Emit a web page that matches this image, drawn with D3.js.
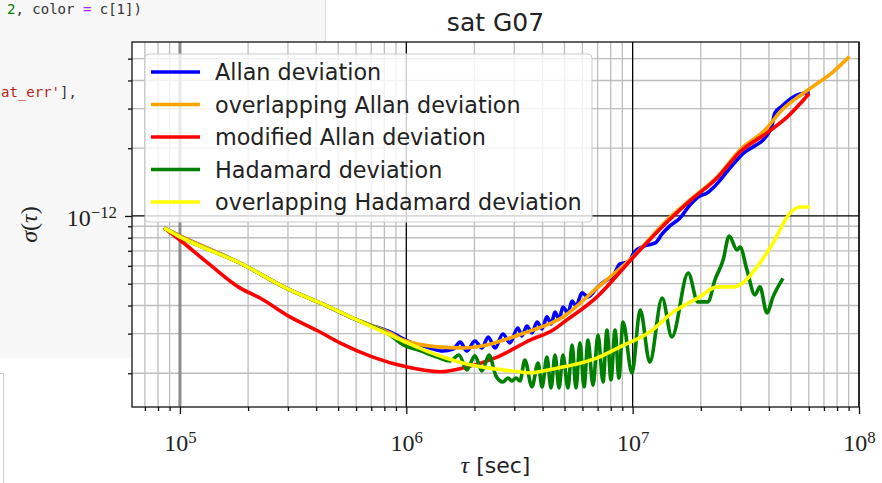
<!DOCTYPE html>
<html>
<head>
<meta charset="utf-8">
<script src="https://cdn.jsdelivr.net/npm/d3@7"></script>
<style>
  html, body { margin: 0; padding: 0; background: #fff; }
  svg { display: block; }
</style>
</head>
<body>
<svg id="chart" width="882" height="483"></svg>
<script>
// values, [tau in s, sigma]
const adev = [
  [8.64e4, 8.76e-13], [1.0e5, 8.15e-13], [1.84e5, 6.18e-13], [3.06e5, 4.69e-13],
  [4.16e5, 4.11e-13], [6.05e5, 3.45e-13], [6.91e5, 3.28e-13], [8.47e5, 3.05e-13],
  [1.04e6, 2.75e-13], [1.27e6, 2.59e-13], [1.45e6, 2.51e-13], [1.61e6, 2.56e-13],
  [1.73e6, 2.75e-13], [1.85e6, 2.51e-13], [2.01e6, 2.78e-13], [2.16e6, 2.59e-13],
  [2.30e6, 2.90e-13], [2.47e6, 2.59e-13], [2.67e6, 2.99e-13], [2.87e6, 2.73e-13],
  [3.11e6, 3.18e-13], [3.24e6, 2.93e-13], [3.41e6, 3.24e-13], [3.59e6, 3.02e-13],
  [3.78e6, 3.38e-13], [3.98e6, 3.15e-13], [4.18e6, 3.56e-13], [4.36e6, 3.31e-13],
  [4.54e6, 3.74e-13], [4.73e6, 3.48e-13], [4.92e6, 3.94e-13], [5.18e6, 3.71e-13],
  [5.40e6, 4.19e-13], [5.62e6, 3.98e-13], [5.97e6, 4.55e-13], [6.35e6, 4.37e-13],
  [6.96e6, 4.79e-13], [7.55e6, 5.14e-13], [8.19e6, 5.41e-13], [8.79e6, 6.12e-13],
  [9.54e6, 6.25e-13], [1.02e7, 6.92e-13], [1.13e7, 7.36e-13], [1.26e7, 7.59e-13],
  [1.35e7, 8.32e-13], [1.46e7, 9.03e-13], [1.62e7, 9.80e-13], [1.79e7, 1.119e-12],
  [1.98e7, 1.227e-12], [2.13e7, 1.265e-12], [2.31e7, 1.36e-12], [2.48e7, 1.475e-12],
  [2.69e7, 1.634e-12], [2.89e7, 1.774e-12], [3.14e7, 1.925e-12], [3.47e7, 2.05e-12],
  [3.84e7, 2.22e-12], [4.13e7, 2.54e-12], [4.25e7, 2.87e-12], [4.57e7, 3.08e-12],
  [5.06e7, 3.35e-12], [5.49e7, 3.48e-12], [5.95e7, 3.52e-12]
];

const oadev = [
  [8.64e4, 8.76e-13], [1.0e5, 8.15e-13], [1.84e5, 6.18e-13], [3.06e5, 4.69e-13],
  [4.16e5, 4.11e-13], [6.05e5, 3.45e-13], [8.47e5, 3.02e-13], [9.67e5, 2.81e-13],
  [1.37e6, 2.62e-13], [1.78e6, 2.59e-13], [2.27e6, 2.67e-13], [2.87e6, 2.87e-13],
  [3.52e6, 3.08e-13], [4.92e6, 3.56e-13], [6.96e6, 4.79e-13], [1.0e7, 6.57e-13],
  [1.42e7, 9.60e-13], [1.79e7, 1.178e-12], [2.36e7, 1.49e-12], [2.98e7, 1.965e-12],
  [3.92e7, 2.46e-12], [4.48e7, 2.90e-12], [5.95e7, 3.63e-12], [7.68e7, 4.37e-12],
  [8.95e7, 5.04e-12]
];

const mdev = [
  [8.64e4, 8.76e-13], [1.0e5, 7.82e-13], [1.36e5, 6.06e-13], [1.84e5, 4.79e-13],
  [2.26e5, 4.32e-13], [3.06e5, 3.56e-13], [4.16e5, 3.05e-13], [5.09e5, 2.73e-13],
  [7.12e5, 2.36e-13], [1.01e6, 2.13e-13], [1.41e6, 2.03e-13], [1.78e6, 2.11e-13],
  [2.52e6, 2.36e-13], [3.52e6, 2.81e-13], [4.45e6, 3.11e-13], [4.92e6, 3.35e-13],
  [6.96e6, 4.37e-13], [1.0e7, 6.51e-13], [1.42e7, 9.40e-13], [1.79e7, 1.166e-12],
  [2.36e7, 1.475e-12], [2.98e7, 1.925e-12], [3.92e7, 2.34e-12], [4.81e7, 2.75e-12],
  [5.95e7, 3.45e-12]
];

const hdev = [
  [8.64e4, 8.76e-13], [1.0e5, 8.07e-13], [1.84e5, 6.18e-13], [3.06e5, 4.69e-13],
  [4.16e5, 4.11e-13], [6.05e5, 3.45e-13], [8.47e5, 2.96e-13], [9.67e5, 2.68e-13],
  [1.15e6, 2.52e-13], [1.37e6, 2.36e-13], [1.56e6, 2.27e-13], [1.71e6, 2.41e-13],
  [1.85e6, 2.07e-13], [2.01e6, 2.39e-13], [2.16e6, 2.05e-13], [2.32e6, 2.41e-13],
  [2.49e6, 1.945e-13], [2.67e6, 1.83e-13], [2.81e6, 1.905e-13], [2.93e6, 1.85e-13],
  [3.05e6, 1.905e-13], [3.18e6, 1.85e-13], [3.34e6, 2.29e-13], [3.59e6, 1.74e-13],
  [3.82e6, 2.22e-13], [3.98e6, 1.74e-13], [4.18e6, 2.36e-13], [4.36e6, 1.72e-13],
  [4.54e6, 2.41e-13], [4.73e6, 1.72e-13], [4.92e6, 2.41e-13], [5.18e6, 1.72e-13],
  [5.40e6, 2.67e-13], [5.62e6, 1.72e-13], [5.85e6, 2.73e-13], [6.10e6, 1.74e-13],
  [6.35e6, 2.81e-13], [6.68e6, 1.77e-13], [7.03e6, 2.96e-13], [7.40e6, 1.83e-13],
  [7.70e6, 3.11e-13], [8.02e6, 1.87e-13], [8.36e6, 3.11e-13], [8.70e6, 1.905e-13],
  [9.06e6, 3.38e-13], [9.93e6, 2.005e-13], [1.08e7, 3.82e-13], [1.19e7, 2.24e-13],
  [1.35e7, 4.32e-13], [1.49e7, 2.90e-13], [1.76e7, 5.58e-13], [1.94e7, 4.15e-13],
  [2.15e7, 4.15e-13], [2.31e7, 5.20e-13], [2.51e7, 6.37e-13], [2.67e7, 8.15e-13],
  [2.89e7, 7.06e-13], [2.98e7, 7.28e-13], [3.20e7, 5.75e-13], [3.47e7, 4.46e-13],
  [3.65e7, 4.84e-13], [3.92e7, 3.71e-13], [4.17e7, 4.37e-13], [4.57e7, 5.20e-13]
];

const ohdev = [
  [8.64e4, 8.76e-13], [1.0e5, 8.07e-13], [1.84e5, 6.18e-13], [3.06e5, 4.69e-13],
  [4.16e5, 4.11e-13], [6.05e5, 3.45e-13], [8.47e5, 2.96e-13], [1.01e6, 2.73e-13],
  [1.37e6, 2.41e-13], [1.91e6, 2.18e-13], [2.67e6, 2.07e-13], [3.18e6, 2.03e-13],
  [3.52e6, 2.01e-13], [4.45e6, 2.09e-13], [6.96e6, 2.34e-13], [8.79e6, 2.62e-13],
  [1.19e7, 3.05e-13], [1.51e7, 3.74e-13], [1.98e7, 4.37e-13], [2.36e7, 4.84e-13],
  [2.78e7, 4.84e-13], [3.07e7, 5.04e-13], [3.54e7, 5.93e-13], [4.17e7, 7.59e-13],
  [4.96e7, 1.031e-12], [5.49e7, 1.096e-12], [5.95e7, 1.096e-12]
];

const seriesNames = ['Allan deviation', 'overlapping Allan deviation', 'modified Allan deviation',
  'Hadamard deviation', 'overlapping Hadamard deviation'];
const seriesColors = ['blue', 'orange', 'red', 'green', 'yellow'];
const xMajor = [1e5, 1e6, 1e7, 1e8];
const yMajor = [1e-12];
const xDomain = [6.14e4, 1e8];
const yDomain = [1.416e-13, 5.93e-12];

const W = 882, H = 483;
const m = { left: 132, right: 859, top: 42, bottom: 407 };

const svg = d3.select('#chart');

// notebook bits around the figure
svg.append('rect').attr('width', W).attr('height', H).attr('fill', '#fff');
svg.append('rect').attr('width', 325).attr('height', 358).attr('fill', '#f7f7f7');
svg.append('line').attr('x1', 325.5).attr('x2', 325.5).attr('y1', 0).attr('y2', 42)
  .attr('stroke', '#dedede');
svg.append('path').attr('d', 'M0,373.5H3.5V483').attr('fill', 'none').attr('stroke', '#cfcfcf');

const code1 = svg.append('text').attr('x', 7).attr('y', 14)
  .attr('font-family', 'DejaVu Sans Mono').attr('font-size', 14).attr('xml:space', 'preserve');
code1.append('tspan').attr('fill', '#008000').text('2');
code1.append('tspan').attr('fill', '#333').text(', color ');
code1.append('tspan').attr('fill', '#aa22ff').text('=');
code1.append('tspan').attr('fill', '#333').text(' c[1])');

const code2 = svg.append('text').attr('x', 1).attr('y', 97)
  .attr('font-family', 'DejaVu Sans Mono').attr('font-size', 14);
code2.append('tspan').attr('fill', '#ba2121').text("at_err'");
code2.append('tspan').attr('fill', '#333').text('],');

// axes face
svg.append('rect').attr('x', m.left).attr('y', m.top)
  .attr('width', m.right - m.left).attr('height', m.bottom - m.top).attr('fill', '#fff');

const x = d3.scaleLog().domain(xDomain).range([m.left, m.right]);
const y = d3.scaleLog().domain(yDomain).range([m.bottom, m.top]);

const isPow10 = v => Math.abs(Math.log10(v) - Math.round(Math.log10(v))) < 1e-6;
const xMinor = x.ticks().filter(v => !isPow10(v));
const yMinor = y.ticks().filter(v => !isPow10(v));

// grid
const grid = svg.append('g');
grid.selectAll('.gxm').data(xMinor).enter().append('line')
  .attr('x1', d => x(d)).attr('x2', d => x(d)).attr('y1', m.top).attr('y2', m.bottom)
  .attr('stroke', '#bdbdbd').attr('stroke-width', 1.3);
grid.selectAll('.gym').data(yMinor).enter().append('line')
  .attr('y1', d => y(d)).attr('y2', d => y(d)).attr('x1', m.left).attr('x2', m.right)
  .attr('stroke', '#bdbdbd').attr('stroke-width', 1.3);
grid.selectAll('.gxM').data(xMajor).enter().append('line')
  .attr('x1', d => x(d)).attr('x2', d => x(d)).attr('y1', m.top).attr('y2', m.bottom)
  .attr('stroke', d => d === 1e5 ? '#8c8c8c' : '#000')
  .attr('stroke-width', d => d === 1e5 ? 3 : 1.3);
grid.selectAll('.gyM').data(yMajor).enter().append('line')
  .attr('y1', d => y(d)).attr('y2', d => y(d)).attr('x1', m.left).attr('x2', m.right)
  .attr('stroke', '#000').attr('stroke-width', 1.3);

// curves
svg.append('clipPath').attr('id', 'clip').append('rect')
  .attr('x', m.left).attr('y', m.top).attr('width', m.right - m.left).attr('height', m.bottom - m.top);

const smooth = d3.line().x(d => x(d[0])).y(d => y(d[1])).curve(d3.curveMonotoneX);
const series = [adev, oadev, mdev, hdev, ohdev];

const lines = svg.append('g').attr('clip-path', 'url(#clip)');
series.forEach((s, i) => {
  lines.append('path').datum(s)
    .attr('d', smooth)
    .attr('fill', 'none')
    .attr('stroke', seriesColors[i])
    .attr('stroke-width', 3.6)
    .attr('stroke-linejoin', 'round')
    .attr('stroke-linecap', 'square');
});

// legend
const legend = svg.append('g');
legend.append('rect').attr('x', 145).attr('y', 54).attr('width', 447).attr('height', 168)
  .attr('rx', 4).attr('fill', '#fff').attr('fill-opacity', 0.8).attr('stroke', '#cccccc');
seriesNames.forEach((name, i) => {
  const ly = 72 + i * 32.5;
  legend.append('line').attr('x1', 151).attr('x2', 200).attr('y1', ly).attr('y2', ly)
    .attr('stroke', seriesColors[i]).attr('stroke-width', 3.6);
  legend.append('text').attr('x', 215).attr('y', ly + 8)
    .attr('font-family', 'DejaVu Sans').attr('font-size', 22.3).attr('fill', '#222').text(name);
});

// spines
svg.append('rect').attr('x', m.left).attr('y', m.top)
  .attr('width', m.right - m.left).attr('height', m.bottom - m.top)
  .attr('fill', 'none').attr('stroke', '#111').attr('stroke-width', 1.3);

// ticks
function power(sel) {
  sel.each(function (d) {
    const t = d3.select(this);
    const e = Math.round(Math.log10(d));
    t.text(null);
    t.append('tspan').text('10');
    t.append('tspan').attr('dy', '-0.48em').attr('font-size', '0.7em')
      .text(String(e).replace('-', '\u2212'));
  });
}

const gx = svg.append('g').attr('transform', `translate(0,${m.bottom})`)
  .call(d3.axisBottom(x).tickValues(xMajor).tickSize(7));
const gxm = svg.append('g').attr('transform', `translate(0,${m.bottom})`)
  .call(d3.axisBottom(x).tickValues(xMinor).tickSize(4).tickFormat(''));
const gy = svg.append('g').attr('transform', `translate(${m.left},0)`)
  .call(d3.axisLeft(y).tickValues(yMajor).tickSize(7));
const gym = svg.append('g').attr('transform', `translate(${m.left},0)`)
  .call(d3.axisLeft(y).tickValues(yMinor).tickSize(4).tickFormat(''));

[gx, gxm, gy, gym].forEach(g => {
  g.select('.domain').remove();
  g.selectAll('.tick line').attr('stroke', '#111').attr('stroke-width', 1.3);
});

gx.selectAll('.tick text')
  .attr('y', 44).attr('dy', null)
  .attr('font-family', 'Liberation Serif').attr('font-size', 24).attr('fill', '#222')
  .call(power);
gy.selectAll('.tick text')
  .attr('x', -15).attr('dy', null).attr('y', 10)
  .attr('font-family', 'Liberation Serif').attr('font-size', 24).attr('fill', '#222')
  .call(power);

// titles
svg.append('text').attr('x', (m.left + m.right) / 2).attr('y', 31)
  .attr('text-anchor', 'middle').attr('font-family', 'DejaVu Sans').attr('font-size', 25)
  .attr('fill', '#222').text('sat G07');

const xl = svg.append('text').attr('x', (m.left + m.right) / 2).attr('y', 473)
  .attr('text-anchor', 'middle').attr('font-family', 'DejaVu Sans').attr('font-size', 22)
  .attr('fill', '#222');
xl.append('tspan').attr('font-family', 'Liberation Serif').attr('font-style', 'italic')
  .attr('font-size', 24).text('\u03c4');
xl.append('tspan').text(' [sec]');

svg.append('text')
  .attr('transform', `translate(37,${(m.top + m.bottom) / 2}) rotate(-90)`)
  .attr('text-anchor', 'middle').attr('font-family', 'Liberation Serif').attr('font-size', 24)
  .attr('fill', '#222')
  .html('<tspan font-style="italic">\u03c3</tspan>(<tspan font-style="italic">\u03c4</tspan>)');
</script>
</body>
</html>
